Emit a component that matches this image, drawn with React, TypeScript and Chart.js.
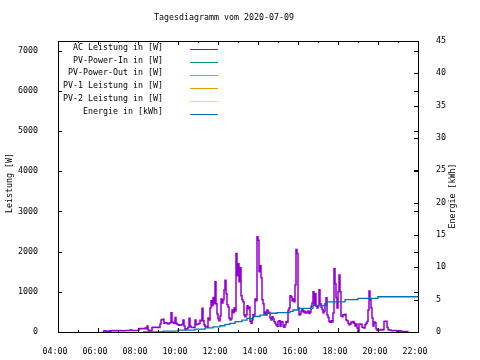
import React, { useEffect, useRef } from "react";
import { Chart, registerables } from "chart.js";

Chart.register(...registerables);

const chartTitle = "Tagesdiagramm vom 2020-07-09";
const leftAxisTitle = "Leistung [W]";
const rightAxisTitle = "Energie [kWh]";

// AC power, sampled every 3 minutes starting 06:15 (minutes of day)
const acStartMinute = 375;
const acStepMinutes = 3;
const acWatts = [
  10, 30, 30, 20, 20, 20, 30, 20, 30, 40,
  30, 40, 30, 30, 40, 30, 30, 40, 40, 30,
  30, 30, 40, 40, 40, 40, 40, 50, 50, 40,
  40, 40, 40, 40, 40, 40, 90, 90, 80, 90,
  90, 80, 100, 80, 150, 50, 30, 30, 40, 110,
  120, 110, 120, 120, 110, 120, 110, 200, 300, 310,
  320, 220, 230, 230, 210, 200, 220, 230, 480, 250,
  230, 210, 360, 220, 190, 180, 170, 170, 180, 190,
  300, 150, 70, 80, 80, 120, 340, 150, 120, 110,
  110, 120, 300, 180, 190, 200, 220, 290, 280, 590,
  280, 180, 140, 130, 120, 350, 300, 600, 780, 650,
  860, 700, 1250, 700, 450, 330, 280, 400, 820, 720,
  800, 1050, 1290, 950, 680, 620, 350, 300, 330, 550,
  480, 600, 520, 1950, 1400, 1700, 1250, 1600, 900, 800,
  750, 420, 380, 430, 650, 580, 620, 270, 220, 300,
  430, 420, 820, 780, 2370, 2280, 1500, 1650, 1350, 800,
  700, 450, 500, 430, 550, 500, 480, 350, 300, 380,
  330, 260, 220, 180, 140, 260, 280, 140, 260, 250,
  150, 120, 180, 260, 240, 540, 600, 900, 870, 780,
  820, 750, 1170, 2050, 1950, 600, 420, 450, 520, 560,
  500, 520, 470, 500, 480, 520, 460, 500, 640, 720,
  1000, 680, 950, 640, 600, 650, 1050, 700, 620, 560,
  480, 520, 700, 850, 420, 360, 260, 240, 280, 250,
  470, 1580, 1200, 850, 600, 1000, 1420, 1000, 400, 380,
  430, 420, 440, 300, 280, 220, 180, 200, 250, 230,
  260, 220, 150, 200, 100, 10, 200, 200, 190, 120,
  110, 100, 180, 220, 260, 550, 1020, 800, 600, 350,
  150, 250, 230, 80, 40, 50, 50, 50, 60, 50,
  60, 260, 270, 270, 120, 60, 50, 50, 40, 30,
  30, 40, 40, 30, 15, 20, 30, 30, 20, 10,
  10, 15, 15, 10, 10, 5,
];

// Daily energy (kWh) at the minutes of day where it steps
const energyMinutes = [495, 555, 600, 651, 681, 705, 726, 741, 756, 771, 792, 807, 825, 846, 867, 897, 936, 945, 960, 1005, 1047, 1101, 1140, 1200, 1320];
const energyKWh = [0, 0.15, 0.3, 0.45, 0.65, 0.8, 0.97, 1.18, 1.34, 1.6, 1.85, 2.1, 2.4, 2.6, 2.9, 3.0, 3.2, 3.4, 3.65, 4.1, 4.67, 5.0, 5.2, 5.45, 5.55];

const seriesLabels = [
  "AC Leistung in [W]",
  "PV-Power-In in [W]",
  "PV-Power-Out in [W]",
  "PV-1 Leistung in [W]",
  "PV-2 Leistung in [W]",
  "Energie in [kWh]",
];
const seriesColors = ["#9400d3", "#009e73", "#56b4e9", "#e69f00", "#f0e442", "#0072b2"];

// Axis ranges and tick values
const xMinMinute = 240;
const xMaxMinute = 1320;
const xTickMinutes = [240, 300, 360, 420, 480, 540, 600, 660, 720, 780, 840, 900, 960, 1020, 1080, 1140, 1200, 1260, 1320];
const leftMax = 7240;
const leftTicks = [0, 1000, 2000, 3000, 4000, 5000, 6000, 7000];
const rightMax = 45;
const rightTicks = [0, 5, 10, 15, 20, 25, 30, 35, 40, 45];

const FONT = "'DejaVu Sans Mono', monospace";
const FS = 8.3;

function fmtMinute(m: number): string {
  const h = Math.floor(m / 60);
  const mm = m % 60;
  return String(h).padStart(2, "0") + ":" + String(mm).padStart(2, "0");
}

const decoPlugin = {
  id: "deco",
  afterDraw(chart: any) {
    const { ctx, chartArea } = chart;
    const { left, right, top, bottom } = chartArea;
    ctx.save();
    ctx.strokeStyle = "#000";
    ctx.lineWidth = 1;
    ctx.strokeRect(Math.round(left) + 0.5, Math.round(top) + 0.5, Math.round(right - left), Math.round(bottom - top));
    ctx.beginPath();
    const xs = chart.scales.x;
    xs.ticks.forEach((t: any) => {
      const px = Math.round(xs.getPixelForValue(t.value)) + 0.5;
      const major = (t.value / 60) % 2 === 0;
      const len = major ? 4 : 2;
      ctx.moveTo(px, bottom);
      ctx.lineTo(px, bottom - len);
      ctx.moveTo(px, top);
      ctx.lineTo(px, top + len);
    });
    const ys = chart.scales.y;
    ys.ticks.forEach((t: any) => {
      const py = Math.round(ys.getPixelForValue(t.value)) + 0.5;
      ctx.moveTo(left, py);
      ctx.lineTo(left + 4, py);
      ctx.moveTo(right, py);
      ctx.lineTo(right - 4, py);
    });
    const y2 = chart.scales.y2;
    y2.ticks.forEach((t: any) => {
      const py = Math.round(y2.getPixelForValue(t.value)) + 0.5;
      ctx.moveTo(right, py);
      ctx.lineTo(right - 4, py);
    });
    ctx.stroke();

    ctx.fillStyle = "#000";
    ctx.font = `${FS}px ${FONT}`;
    ctx.textAlign = "center";
    ctx.textBaseline = "middle";
    ctx.fillText(chartTitle, 224, 18);
    ctx.save();
    ctx.translate(10, 183);
    ctx.rotate(-Math.PI / 2);
    ctx.fillText(leftAxisTitle, 0, 0);
    ctx.restore();
    ctx.save();
    ctx.translate(453, 196);
    ctx.rotate(-Math.PI / 2);
    ctx.fillText(rightAxisTitle, 0, 0);
    ctx.restore();

    ctx.textAlign = "right";
    chart.data.datasets.forEach((ds: any, i: number) => {
      const y = top + 6.5 + i * 12.9;
      ctx.fillStyle = "#000";
      ctx.fillText(ds.label, left + 105, y);
      ctx.strokeStyle = ds.borderColor;
      ctx.lineWidth = 1;
      ctx.beginPath();
      ctx.moveTo(left + 132, Math.round(y + 1.5) + 0.5);
      ctx.lineTo(left + 160, Math.round(y + 1.5) + 0.5);
      ctx.stroke();
    });
    ctx.restore();
  },
};

export default function App() {
  const ref = useRef<HTMLCanvasElement | null>(null);
  useEffect(() => {
    if (!ref.current) return;
    const acData = acWatts.map((w, i) => ({ x: acStartMinute + i * acStepMinutes, y: w }));
    const energyData = energyMinutes.map((m, i) => ({ x: m, y: energyKWh[i] }));
    const datasets = seriesLabels.map((label, i) => {
      const isAc = i === 0;
      const isEnergy = i === seriesLabels.length - 1;
      return {
        label,
        data: isAc ? acData : isEnergy ? energyData : [],
        borderColor: seriesColors[i],
        backgroundColor: seriesColors[i],
        borderWidth: isAc ? 1.5 : 1.3,
        pointRadius: 0,
        stepped: "before" as const,
        fill: false,
        yAxisID: isEnergy ? "y2" : "y",
        order: isEnergy ? 0 : 1,
      };
    });
    const tickFont = { family: FONT, size: FS };
    const chart = new Chart(ref.current, {
      type: "line",
      data: { datasets },
      plugins: [decoPlugin],
      options: {
        responsive: false,
        animation: false,
        events: [],
        layout: { padding: { top: 41, left: 0, right: 0, bottom: 0 } },
        plugins: { legend: { display: false }, tooltip: { enabled: false }, title: { display: false } },
        scales: {
          x: {
            type: "linear",
            position: "bottom",
            min: xMinMinute,
            max: xMaxMinute,
            afterFit: (s: any) => { s.height = 28; },
            afterBuildTicks: (s: any) => { s.ticks = xTickMinutes.map((v) => ({ value: v })); },
            grid: { display: false },
            border: { display: false },
            ticks: {
              autoSkip: false,
              maxRotation: 0,
              padding: 7,
              labelOffset: -3,
              color: "#000",
              font: tickFont,
              callback: (v: any) => ((Number(v) / 60) % 2 === 0 ? fmtMinute(Number(v)) : ""),
            },
          },
          y: {
            position: "left",
            min: 0,
            max: leftMax,
            afterFit: (s: any) => { s.width = 58; },
            afterBuildTicks: (s: any) => { s.ticks = leftTicks.map((v) => ({ value: v })); },
            grid: { display: false },
            border: { display: false },
            ticks: { padding: 12, color: "#000", font: tickFont, callback: (v: any) => String(v) },
          },
          y2: {
            position: "right",
            min: 0,
            max: rightMax,
            afterFit: (s: any) => { s.width = 62; },
            afterBuildTicks: (s: any) => { s.ticks = rightTicks.map((v) => ({ value: v })); },
            grid: { display: false },
            border: { display: false },
            ticks: { padding: 10, color: "#000", font: tickFont, callback: (v: any) => String(v) },
          },
        },
      },
    } as any);
    return () => chart.destroy();
  }, []);
  return (
    <div style={{ position: "fixed", left: 0, top: 0, width: 480, height: 360, background: "#fff" }}>
      <canvas ref={ref} width={480} height={360} style={{ display: "block" }} />
    </div>
  );
}
